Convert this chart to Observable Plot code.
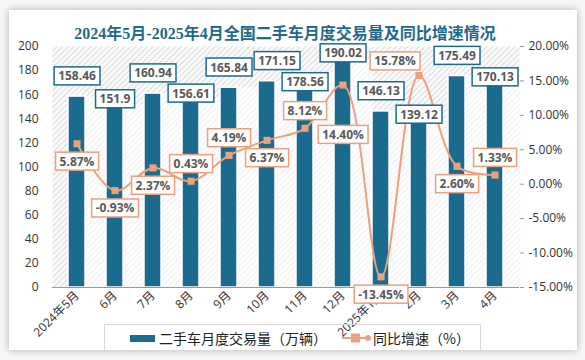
<!DOCTYPE html>
<html><head><meta charset="utf-8">
<script src="https://cdn.jsdelivr.net/npm/d3@7"></script>
<script src="https://cdn.jsdelivr.net/npm/@observablehq/plot@0.6"></script>
<style>
body{margin:0;background:#f6f6f6;width:585px;height:360px;overflow:hidden;position:relative;font-family:"Open Sans","Noto Sans CJK SC",sans-serif;}
#card{position:absolute;left:9px;top:10px;width:568px;height:340px;background:#fff;box-shadow:0 0 7px rgba(0,0,0,0.3);}
#title{position:absolute;left:0;width:570px;top:20px;text-align:center;font:bold 16px "Liberation Serif","Noto Sans CJK SC",serif;color:#1f6a8c;z-index:3;}
#chart{position:absolute;left:0;top:0;}
#legend{position:absolute;left:104px;top:324px;width:375px;height:25px;border:1px solid #d9d9d9;z-index:3;font:14px "Noto Sans CJK SC",sans-serif;color:#222;}
.lg{position:absolute;top:3px;white-space:nowrap;}
</style></head>
<body>
<div id="card"></div>
<div id="chart"></div>
<div id="title"><span id="tspan">2024年5月-2025年4月全国二手车月度交易量及同比增速情况</span></div>
<div id="legend">
  <div style="position:absolute;left:25px;top:10px;width:25px;height:7px;background:#1b6b8f"></div>
  <div class="lg" style="left:54px" id="lg1"></div>
  <svg style="position:absolute;left:237px;top:5px" width="30" height="16"><line x1="0" y1="8" x2="28" y2="8" stroke="#eba07e" stroke-width="2"/><rect x="9" y="3.5" width="9" height="9" fill="#eba07e"/><circle cx="26" cy="8" r="3" fill="#eba07e"/></svg>
  <div class="lg" style="left:268px" id="lg2"></div>
</div>
<script>
const months = ["2024年5月","6月","7月","8月","9月","10月","11月","12月","2025年1月","2月","3月","4月"];
const volume = [158.46,151.9,160.94,156.61,165.84,171.15,178.56,190.02,146.13,139.12,175.49,170.13];
const growth = [5.87,-0.93,2.37,0.43,4.19,6.37,8.12,14.40,-13.45,15.78,2.60,1.33];
const leftTicks = [0,20,40,60,80,100,120,140,160,180,200];
const rightTicks = [-15,-10,-5,0,5,10,15,20];
const seriesNames = ["二手车月度交易量（万辆）","同比增速（%）"];

document.getElementById("lg1").textContent = seriesNames[0];
document.getElementById("lg2").textContent = seriesNames[1];

const gMin = -15, gMax = 20, yMax = 200;
const toY = g => (g - gMin) * yMax / (gMax - gMin);
const fromY = y => Math.round((y * (gMax - gMin) / yMax + gMin) * 100) / 100;

const data = months.map((m, i) => ({m, v: volume[i], g: growth[i], gy: toY(growth[i])}));
const BAR = "#1b6b8f", LINE = "#eba07e";

const chart = Plot.plot({
  width: 585, height: 360,
  marginLeft: 52, marginRight: 66, marginTop: 46, marginBottom: 73,
  x: {domain: months, paddingInner: 0.56, paddingOuter: 0.28, label: null},
  y: {domain: [0, yMax], label: null},
  style: {fontFamily: '"Open Sans","Noto Sans CJK SC",sans-serif', fontSize: "12px", color: "#333", background: "transparent", overflow: "visible"},
  marks: [
    Plot.frame({fill: "url(#hatch)", stroke: null}),
    Plot.barY(data, {x: "m", y: "v", fill: "white", fillOpacity: 0.6, dx: 19.5, insetLeft: -2.5, insetRight: -2.5, clip: true}),
    Plot.barY(data, {x: "m", y: "v", fill: BAR, stroke: "white", strokeWidth: 1.5}),
    Plot.ruleY([0], {stroke: "#999", strokeWidth: 1}),
    Plot.axisY(leftTicks, {anchor: "left", tickSize: 0, tickPadding: 14, label: null, fontSize: 12}),
    Plot.axisY(rightTicks.map(toY), {anchor: "right", tickSize: 4, tickPadding: 5, label: null, stroke: "#999", fontSize: 12,
      tickFormat: y => fromY(y).toFixed(2) + "%"}),
    Plot.ruleY([0, yMax], {y1: 0, y2: yMax, x: months[months.length - 1], dx: 20, stroke: "#999"}),
    Plot.axisX({tickRotate: -45, tickSize: 0, tickPadding: 6, label: null, fontSize: 12}),
    Plot.line(data, {x: "m", y: "gy", stroke: LINE, strokeWidth: 2, curve: "catmull-rom"}),
    Plot.dot(data, {x: "m", y: "gy", symbol: "square", r: 4, fill: LINE}),
    Plot.text(data, {x: "m", y: "v", text: d => String(d.v), fill: "#595959", fontWeight: "bold", fontSize: 12}),
    Plot.text(data, {x: "m", y: "gy", text: d => d.g.toFixed(2) + "%", fill: "#595959", fontWeight: "bold", fontSize: 12})
  ]
});
document.getElementById("chart").appendChild(chart);

// hatch pattern
const svg = d3.select(chart);
const defs = svg.insert("defs", ":first-child");
const pat = defs.append("pattern").attr("id", "hatch").attr("patternUnits", "userSpaceOnUse")
  .attr("width", 4).attr("height", 4).attr("patternTransform", "rotate(45)");
pat.append("rect").attr("width", 4).attr("height", 4).attr("fill", "#fafafa");
pat.append("line").attr("x1", 0).attr("y1", 0).attr("x2", 0).attr("y2", 4).attr("stroke", "#bdbdbd").attr("stroke-width", 1);

// label boxes with simple collision avoidance
const sr = chart.getBoundingClientRect();
const toLocal = r => ({x0: r.left - sr.left, y0: r.top - sr.top, x1: r.right - sr.left, y1: r.bottom - sr.top});
const obstacles = [];
const tb = toLocal(document.getElementById("tspan").getBoundingClientRect());
obstacles.push({x0: tb.x0, y0: tb.y0 + 3, x1: tb.x1, y1: tb.y1 - 3});
chart.querySelectorAll("g[aria-label='dot'] path").forEach(p => {
  obstacles.push(toLocal(p.getBoundingClientRect()));
});
const hit = (a, b) => a.x0 < b.x1 + 1 && a.x1 + 1 > b.x0 && a.y0 < b.y1 + 1 && a.y1 + 1 > b.y0;

const textGroups = Array.from(chart.querySelectorAll("g[aria-label='text']")).slice(-2);
const barCands = [[0,-20],[0,-36],[0,-5],[8,-5],[-8,-5],[-10,-20],[10,-20],[0,10],[8,10],[0,25],[0,40],[0,55]];
const pctCands = [[0,18],[0,-17],[24,14],[24,-14],[-24,14],[-24,-14],[0,34],[0,-33],[30,0],[-30,0],[0,50],[0,-49]];
function place(g, color, cands) {
  Array.from(g.querySelectorAll("text")).forEach(function(t) {
    const b = t.getBBox();
    const a = toLocal(t.getBoundingClientRect());
    const pad = 4, w = a.x1 - a.x0 + 2 * pad, h = a.y1 - a.y0 + 1;
    const cx = (a.x0 + a.x1) / 2, cy = (a.y0 + a.y1) / 2;
    const mk = c => ({x0: cx + c[0] - w / 2, x1: cx + c[0] + w / 2, y0: cy + c[1] - h / 2, y1: cy + c[1] + h / 2});
    let chosen = cands[0], box = null;
    for (const c of cands) {
      const r = mk(c);
      if (r.y0 < 14 || r.x1 > 580) continue;
      if (!obstacles.some(o => hit(r, o))) { chosen = c; box = r; break; }
    }
    if (!box) box = mk(chosen);
    obstacles.push(box);
    const wrap = document.createElementNS("http://www.w3.org/2000/svg", "g");
    wrap.setAttribute("transform", `translate(${chosen[0]},${chosen[1]})`);
    const r = document.createElementNS("http://www.w3.org/2000/svg", "rect");
    r.setAttribute("x", b.x - pad); r.setAttribute("y", b.y - 0.5);
    r.setAttribute("width", b.width + 2 * pad); r.setAttribute("height", b.height + 1);
    r.setAttribute("fill", "white"); r.setAttribute("stroke", color); r.setAttribute("stroke-width", 1.5);
    const tr = t.getAttribute("transform"); if (tr) r.setAttribute("transform", tr);
    t.parentNode.insertBefore(wrap, t);
    wrap.appendChild(r); wrap.appendChild(t);
  });
}
if (textGroups.length === 2) {
  place(textGroups[0], BAR, barCands);
  place(textGroups[1], LINE, pctCands);
}
</script>
</body></html>
